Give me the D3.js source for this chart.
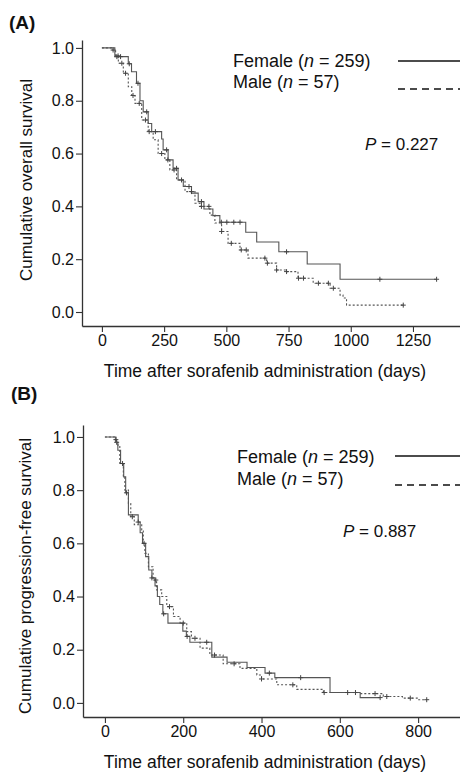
<!DOCTYPE html>
<html>
<head>
<meta charset="utf-8">
<script src="https://cdn.jsdelivr.net/npm/d3@7"></script>
<style>
body { margin: 0; background: #fff; }
text { font-family: "Liberation Sans", Arial, sans-serif; fill: #111; }
</style>
</head>
<body>
<script>
const width = 460;
const height = 774;

// panel A: overall survival, [days, survival] steps
const solidA = [[0,1],[52,0.967],[106,0.94],[119,0.91],[139,0.866],[153,0.80],[166,0.758],[186,0.714],[200,0.683],[240,0.655],[246,0.614],[266,0.576],[286,0.544],[306,0.50],[327,0.475],[360,0.45],[387,0.418],[410,0.39],[446,0.365],[474,0.34],[578,0.302],[622,0.265],[711,0.228],[825,0.182],[957,0.124]];
const solidAEnd = 1345;
const solidACens = [60,75,110,145,180,215,260,300,350,400,480,502,530,555,742,1117,1345];

const dashedA = [[0,1],[39,0.992],[55,0.97],[66,0.942],[86,0.904],[106,0.853],[120,0.82],[133,0.79],[160,0.727],[186,0.683],[206,0.652],[226,0.60],[253,0.576],[273,0.538],[300,0.50],[334,0.456],[374,0.412],[394,0.40],[434,0.367],[454,0.337],[481,0.305],[507,0.26],[555,0.235],[587,0.204],[662,0.185],[702,0.159],[742,0.153],[788,0.128],[849,0.109],[917,0.09],[957,0.064],[969,0.053],[983,0.026]];
const dashedAEnd = 1211;
const dashedACens = [45,65,80,95,125,150,175,190,240,265,290,320,360,400,430,481,520,560,580,655,665,702,742,790,810,870,910,930,1211];

// panel B: progression-free survival
const solidB = [[0,1],[28,0.98],[33,0.95],[40,0.90],[48,0.85],[53,0.79],[60,0.707],[85,0.68],[90,0.64],[96,0.60],[104,0.55],[112,0.50],[120,0.47],[128,0.44],[134,0.40],[140,0.37],[148,0.335],[161,0.30],[199,0.27],[208,0.25],[217,0.228],[273,0.172],[312,0.153],[363,0.133],[409,0.112],[434,0.095],[575,0.039],[652,0.02]];
const solidBEnd = 703;
const solidBCens = [30,55,85,120,150,210,260,420,500,640,703];

const dashedB = [[0,1],[26,0.99],[30,0.97],[38,0.90],[47,0.85],[51,0.80],[60,0.75],[66,0.70],[75,0.67],[94,0.65],[98,0.60],[102,0.563],[111,0.512],[123,0.462],[132,0.425],[145,0.40],[158,0.362],[175,0.325],[192,0.30],[209,0.268],[221,0.243],[243,0.206],[268,0.18],[302,0.147],[345,0.13],[388,0.105],[400,0.09],[439,0.068],[490,0.051],[558,0.039],[650,0.035],[711,0.024],[760,0.018],[800,0.012]];
const dashedBEnd = 822;
const dashedBCens = [28,45,70,100,130,165,200,230,280,330,400,480,560,620,690,720,780,822];

const yTicks = [0, 0.2, 0.4, 0.6, 0.8, 1.0];
const xTicksA = [0, 250, 500, 750, 1000, 1250];
const xTicksB = [0, 200, 400, 600, 800];

const legendLabels = [["Female (", "n", " = 259)"], ["Male (", "n", " = 57)"]];

const svg = d3.select('body').append('svg').attr('width', width).attr('height', height);

function panel(opt) {
    const g = svg.append('g');
    const x = d3.scaleLinear().domain(opt.xDomain).range([opt.left, 460]);
    const y = d3.scaleLinear().domain(opt.yDomain).range([opt.bottom, opt.top]);

    const xAxis = g.append('g').attr('transform', `translate(0,${opt.bottom})`)
        .call(d3.axisBottom(x).tickValues(opt.xTicks).tickFormat(d3.format('d'))
            .tickSize(6).tickSizeOuter(0).tickPadding(3));
    const yAxis = g.append('g').attr('transform', `translate(${opt.left},0)`)
        .call(d3.axisLeft(y).tickValues(yTicks).tickFormat(d3.format('.1f')).tickSize(6).tickSizeOuter(0).tickPadding(2));
    [xAxis, yAxis].forEach(a => {
        a.select('.domain').attr('stroke', '#333').attr('stroke-width', 1.3);
        a.selectAll('.tick line').attr('stroke', '#333').attr('stroke-width', 1.1);
        a.selectAll('.tick text').attr('font-size', 16).attr('fill', '#111')
            .style('font-family', '"Liberation Sans", Arial, sans-serif');
    });

    const line = d3.line().x(d => x(d[0])).y(d => y(d[1])).curve(d3.curveStepAfter);

    function curve(data, end, cens, dash) {
        const pts = data.concat([[end, data[data.length - 1][1]]]);
        g.append('path').attr('d', line(pts)).attr('fill', 'none')
            .attr('stroke', '#555').attr('stroke-width', 1.1)
            .attr('stroke-dasharray', dash);
        const sAt = t => { let s = 1; data.forEach(d => { if (d[0] <= t) s = d[1]; }); return s; };
        g.selectAll(null).data(cens).enter().append('path')
            .attr('d', t => `M${x(t) - 2.5},${y(sAt(t))}h5M${x(t)},${y(sAt(t)) - 2.5}v5`)
            .attr('stroke', '#444').attr('stroke-width', 1);
    }
    curve(opt.solid, opt.solidEnd, opt.solidCens, null);
    curve(opt.dashed, opt.dashedEnd, opt.dashedCens, '2,2');

    g.append('text').attr('x', opt.labelX).attr('y', opt.labelY)
        .attr('font-size', 19).attr('font-weight', 'bold').text(opt.label);

    g.append('text').attr('x', 265).attr('y', opt.bottom + 51)
        .attr('text-anchor', 'middle').attr('font-size', 17.5)
        .text('Time after sorafenib administration (days)');

    g.append('text').attr('transform', `translate(${opt.yTitleX},${opt.yTitleY}) rotate(-90)`)
        .attr('text-anchor', 'middle').attr('font-size', 17).text(opt.yTitle);

    legendLabels.forEach((l, i) => {
        const t = g.append('text').attr('x', opt.legX).attr('y', opt.legY[i]).attr('font-size', 18);
        t.append('tspan').text(l[0]);
        t.append('tspan').attr('font-style', 'italic').text(l[1]);
        t.append('tspan').text(l[2]);
        g.append('line').attr('x1', opt.legLineX).attr('x2', 460)
            .attr('y1', opt.legLineY[i]).attr('y2', opt.legLineY[i])
            .attr('stroke', '#111').attr('stroke-width', 1.5)
            .attr('stroke-dasharray', i === 1 ? '7,5' : null);
    });

    const p = g.append('text').attr('x', opt.pX).attr('y', opt.pY).attr('font-size', 17);
    p.append('tspan').attr('font-style', 'italic').text('P');
    p.append('tspan').text(' = ' + opt.p);
}

panel({
    xDomain: [-80, 1439], yDomain: [-0.053, 1.03], left: 82, top: 40, bottom: 326,
    xTicks: xTicksA,
    solid: solidA, solidEnd: solidAEnd, solidCens: solidACens,
    dashed: dashedA, dashedEnd: dashedAEnd, dashedCens: dashedACens,
    label: '(A)', labelX: 9, labelY: 29,
    yTitle: 'Cumulative overall survival', yTitleX: 32, yTitleY: 180,
    legX: 233, legY: [67, 88], legLineX: 398, legLineY: [61, 89],
    pX: 365, pY: 150, p: '0.227'
});

panel({
    xDomain: [-56, 907], yDomain: [-0.053, 1.045], left: 83, top: 425, bottom: 717,
    xTicks: xTicksB,
    solid: solidB, solidEnd: solidBEnd, solidCens: solidBCens,
    dashed: dashedB, dashedEnd: dashedBEnd, dashedCens: dashedBCens,
    label: '(B)', labelX: 11, labelY: 400,
    yTitle: 'Cumulative progression-free survival', yTitleX: 31, yTitleY: 576,
    legX: 237, legY: [463, 485], legLineX: 395, legLineY: [456, 485],
    pX: 343, pY: 537, p: '0.887'
});
</script>
</body>
</html>
